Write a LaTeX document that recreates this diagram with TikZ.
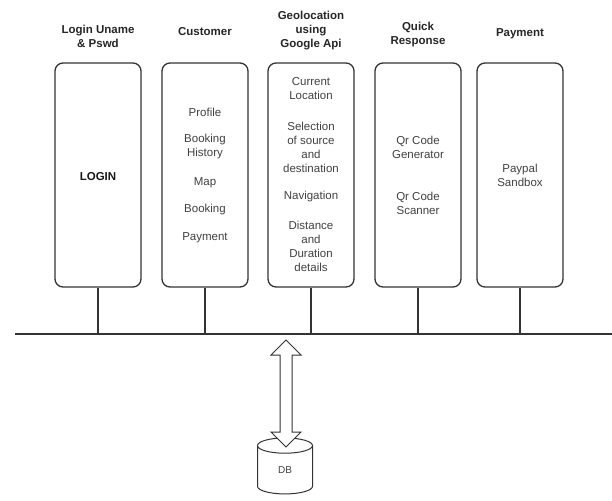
\documentclass[tikz,border=0pt]{standalone}
\usepackage{fontspec}
\setmainfont{Liberation Sans}
\usetikzlibrary{shapes.geometric,calc}
\begin{document}
\begin{tikzpicture}[x=1pt,y=-1pt,
  box/.style={draw=black!80, line width=1.3pt, rounded corners=8pt},
  wire/.style={draw=black!80, line width=1.3pt},
  title/.style={font=\fontsize{11.5}{14}\selectfont\bfseries, align=center, text=black!85, inner sep=0pt},
  item/.style={font=\fontsize{11.5}{14}\selectfont, align=center, text=black!75, inner sep=0pt},
  dblarrow/.style={draw=black!80, line width=1pt, fill=white, line join=miter}
]
\useasboundingbox (0,0) rectangle (612,500);
% titles
\node[title] (t1) at (98,36) {Login Uname\\\& Pswd};
\node[title] (t2) at (205,32) {Customer};
\node[title] (t3) at (311,31) {Geolocation\\using\\Google Api};
\node[title] (t4) at (418,35) {Quick\\Response};
\node[title] (t5) at (520,34) {Payment};
% boxes
\node[box, minimum width=86pt, minimum height=224pt, inner sep=0pt] (b1) at (98,175) {};
\node[box, minimum width=86pt, minimum height=224pt, inner sep=0pt] (b2) at (205,175) {};
\node[box, minimum width=86pt, minimum height=224pt, inner sep=0pt] (b3) at (311,175) {};
\node[box, minimum width=86pt, minimum height=224pt, inner sep=0pt] (b4) at (418,175) {};
\node[box, minimum width=86pt, minimum height=224pt, inner sep=0pt] (b5) at (520,175) {};
% contents
\node[item, font=\fontsize{11.5}{14}\selectfont\bfseries, text=black!90] (l1) at (98,177) {LOGIN};
\node[item] (c1) at (205,112) {Profile};
\node[item] (c2) at (205,147) {Booking\\History};
\node[item] (c3) at (205,183) {Map};
\node[item] (c4) at (205,210) {Booking};
\node[item] (c5) at (205,238) {Payment};
\node[item] (g1) at (311,89) {Current\\Location};
\node[item] (g2) at (311,147) {Selection\\of source\\and\\destination};
\node[item] (g3) at (311,197) {Navigation};
\node[item] (g4) at (311,246.5) {Distance\\and\\Duration\\details};
\node[item] (q1) at (418,147) {Qr Code\\Generator};
\node[item] (q2) at (418,203.5) {Qr Code\\Scanner};
\node[item] (p1) at (520,175.5) {Paypal\\Sandbox};
% bus
\coordinate (busL) at (15,334);
\coordinate (busR) at (612,334);
\draw[wire] (busL) -- (busR);
\foreach \b in {b1,b2,b3,b4,b5}{
  \draw[wire] (\b.south) -- (\b.south |- busL);
}
% database
\node[cylinder, shape border rotate=90, draw=black!80, line width=1pt, fill=white, minimum width=55pt, minimum height=56pt, aspect=1.1, inner sep=0pt, font=\fontsize{10}{12}\selectfont, text=black!75] (db) at (285,470) {DB};
% double arrow between bus and DB
\coordinate (atop) at (286,340);
\coordinate (abot) at (286,447);
\draw[dblarrow] (atop) -- ($(atop)+(15,15)$) -- ($(atop)+(6,15)$) -- ($(abot)+(6,-15)$) -- ($(abot)+(15,-15)$) -- (abot)
  -- ($(abot)+(-15,-15)$) -- ($(abot)+(-6,-15)$) -- ($(atop)+(-6,15)$) -- ($(atop)+(-15,15)$) -- cycle;
\end{tikzpicture}
\end{document}
